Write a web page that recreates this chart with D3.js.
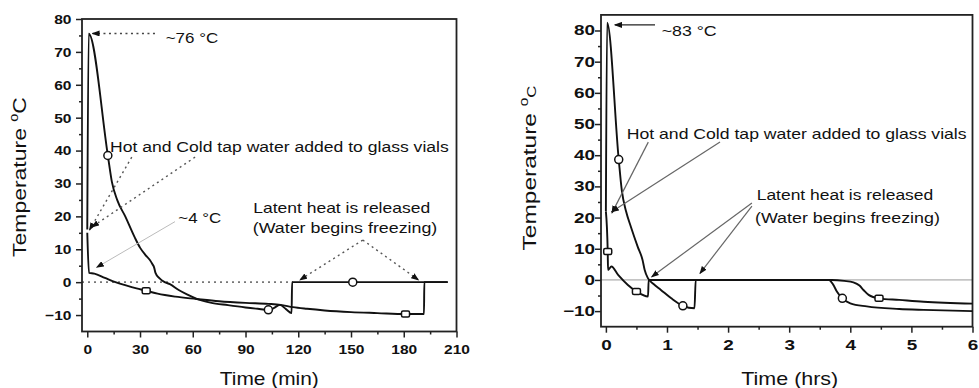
<!DOCTYPE html>
<html>
<head>
<meta charset="utf-8">
<script src="https://cdn.jsdelivr.net/npm/d3@7"></script>
<style>
body { margin: 0; background: #fff; }
svg { display: block; font-family: "Liberation Sans", Arial, sans-serif; }
</style>
</head>
<body>
<svg width="979" height="388"></svg>
<script>
// ---- data ----
// left panel: time in minutes
var leftHotTime  = [0, 0.8, 11.7, 14, 17, 21.6, 27, 30, 33, 35.5, 37, 38, 38.8, 41, 44, 47, 52, 57, 62, 70, 80, 90, 97, 103, 106, 109.5, 113, 116.2, 116.5, 205];
var leftHotTemp  = [16, 75.5, 38.5, 30.5, 25, 20, 13.6, 10.5, 8.3, 6.8, 5.5, 4.5, 2.8, 1.2, 0, -0.6, -2.4, -3.8, -5, -6.2, -7, -7.7, -8.1, -8.4, -7.9, -6.9, -8.2, -9.4, 0, 0];
var leftColdTime = [0, 1, 4, 10, 16, 22, 28, 33.5, 40, 50, 62, 75, 90, 103, 110, 117, 125, 135, 150, 165, 181, 191.5, 191.7, 205];
var leftColdTemp = [15, 2.8, 2.6, 1.3, 0, -1, -1.9, -2.6, -3.5, -4.4, -5.1, -5.8, -6.3, -6.6, -6.9, -7.6, -8.1, -8.6, -9.1, -9.4, -9.7, -9.7, 0, 0];
var leftHotMarkT  = [11.7, 103, 151],  leftHotMarkV  = [38.5, -8.4, 0];
var leftColdMarkT = [33.5, 181],       leftColdMarkV = [-2.6, -9.7];

// right panel: time in hours
var rightHotTime  = [0, 0.02, 0.21, 0.26, 0.33, 0.41, 0.52, 0.6, 0.635, 0.69, 0.78, 0.9, 1.07, 1.26, 1.45, 1.47, 3.65, 3.72, 3.78, 3.87, 4.0, 4.27, 4.8, 5.2, 6];
var rightHotTemp  = [22, 82.5, 38.6, 28.8, 22, 17, 10.7, 6.4, 3.2, 0.5, -1.3, -3.2, -5.9, -8.3, -9.1, 0, 0, -1.5, -3.7, -5.9, -7.5, -8.5, -9.3, -9.6, -10];
var rightColdTime = [0, 0.03, 0.035, 0.09, 0.2, 0.36, 0.5, 0.69, 0.7, 3.7, 3.9, 4.05, 4.15, 4.22, 4.3, 4.47, 4.8, 5.2, 6];
var rightColdTemp = [22, 9.1, 3.2, 4.3, 1.6, -1.6, -3.7, -5.3, 0, 0, -0.3, -0.8, -1.8, -3.3, -4.8, -5.9, -6.4, -7, -7.6];
var rightHotMarkT  = [0.21, 1.26, 3.87], rightHotMarkV  = [38.6, -8.3, -5.9];
var rightColdMarkT = [0.03, 0.5, 4.47],  rightColdMarkV = [9.1, -3.7, -5.9];

// ticks
var minTicks  = [0, 30, 60, 90, 120, 150, 180, 210];
var minMinor  = [15, 45, 75, 105, 135, 165, 195];
var hrTicks   = [0, 1, 2, 3, 4, 5, 6];
var hrMinor   = [0.5, 1.5, 2.5, 3.5, 4.5, 5.5];
var tempTicks = [-10, 0, 10, 20, 30, 40, 50, 60, 70, 80];
var tempMinor = [-5, 5, 15, 25, 35, 45, 55, 65, 75];

var svg = d3.select("svg");

// arrow head
svg.append("defs").append("marker")
    .attr("id", "head")
    .attr("viewBox", "0 0 8 6")
    .attr("refX", 7).attr("refY", 3)
    .attr("markerWidth", 8).attr("markerHeight", 6)
    .attr("markerUnits", "userSpaceOnUse")
    .attr("orient", "auto")
  .append("path").attr("d", "M0,0L8,3L0,6Z").attr("fill", "#111");

// text squeezed/stretched to a width
function addText(g, str, px, py, size, w, anchor, weight) {
    var t = g.append("text").attr("font-size", size).attr("fill", "#111").text(str);
    if (anchor) t.attr("text-anchor", anchor);
    if (weight) t.attr("font-weight", weight);
    var k = w / t.node().getComputedTextLength();
    t.attr("transform", "translate(" + px + "," + py + ") scale(" + k + ",1)");
    return t;
}

function yTitle(px, cy, len, smallC) {
    var t = svg.append("text").attr("font-size", 19).attr("text-anchor", "middle").attr("fill", "#111");
    t.append("tspan").text("Temperature ");
    t.append("tspan").attr("font-size", 12).attr("dy", -8).text("o");
    t.append("tspan").attr("font-size", smallC ? 13 : 19).attr("dy", 8).text("C");
    var k = len / t.node().getComputedTextLength();
    t.attr("transform", "translate(" + px + "," + cy + ") rotate(-90) scale(" + k + ",1)");
}

function styleAxis(ax, p, vertical) {
    ax.select(".domain").remove();
    ax.selectAll(".tick line").attr("stroke", "#222").attr("stroke-width", 1.5);
    ax.selectAll(".tick text").each(function() {
        var t = d3.select(this)
            .attr("font-size", p.tickSize).attr("font-weight", "bold")
            .attr("font-family", "Liberation Sans, Arial, sans-serif").attr("fill", "#111");
        if (vertical) t.attr("x", 0).attr("transform", "translate(" + (-p.yLabelOff) + ",0) scale(" + p.tickStretch + ",1)");
        else t.attr("y", 0).attr("dy", null).attr("transform", "translate(0," + p.xLabelOff + ") scale(" + p.tickStretch + ",1)");
    });
}

function panel(p) {
    var x = d3.scaleLinear().domain(p.xDomain).range(p.xRange),
        y = d3.scaleLinear().domain(p.yDomain).range(p.yRange);
    var g = svg.append("g");
    var left = p.xRange[0], bottom = p.yRange[0];

    // zero reference line
    g.append("line")
        .attr("x1", left).attr("x2", x(p.zeroEnd))
        .attr("y1", y(0)).attr("y2", y(0))
        .attr("stroke", p.zeroColor).attr("stroke-width", p.zeroWidth)
        .attr("stroke-dasharray", p.zeroDash);

    // axes
    var xa = g.append("g").attr("transform", "translate(0," + bottom + ")")
        .call(d3.axisBottom(x).tickValues(p.xTicks).tickFormat(d3.format("d")).tickSize(6).tickSizeOuter(0));
    styleAxis(xa, p, false);
    var xm = g.append("g").attr("transform", "translate(0," + bottom + ")")
        .call(d3.axisBottom(x).tickValues(p.xMinor).tickSize(3).tickFormat(""));
    styleAxis(xm, p, false);
    var ya = g.append("g").attr("transform", "translate(" + left + ",0)")
        .call(d3.axisLeft(y).tickValues(tempTicks).tickFormat(d3.format("d")).tickSize(6).tickSizeOuter(0));
    styleAxis(ya, p, true);
    var ym = g.append("g").attr("transform", "translate(" + left + ",0)")
        .call(d3.axisLeft(y).tickValues(tempMinor).tickSize(3).tickFormat(""));
    styleAxis(ym, p, true);

    // frame
    g.append("rect")
        .attr("x", left).attr("y", p.yRange[1])
        .attr("width", p.xRange[1] - left).attr("height", bottom - p.yRange[1])
        .attr("fill", "none").attr("stroke", "#222").attr("stroke-width", 1.8);

    // curves
    var line = d3.line().x(function(d) { return x(d[0]); }).y(function(d) { return y(d[1]); })
        .curve(d3.curveMonotoneX);
    p.series.forEach(function(s) {
        g.append("path").datum(d3.zip(s.t, s.v))
            .attr("d", line).attr("fill", "none")
            .attr("stroke", "#111").attr("stroke-width", 1.9).attr("stroke-linejoin", "round");
    });

    // markers
    p.series.forEach(function(s) {
        var pts = d3.zip(s.mt, s.mv);
        if (s.marker === "circle") {
            g.selectAll(null).data(pts).enter().append("circle")
                .attr("cx", function(d) { return x(d[0]); }).attr("cy", function(d) { return y(d[1]); })
                .attr("r", 4).attr("fill", "#fff").attr("stroke", "#111").attr("stroke-width", 1.5);
        } else {
            g.selectAll(null).data(pts).enter().append("rect")
                .attr("x", function(d) { return x(d[0]) - 4; }).attr("y", function(d) { return y(d[1]) - 3; })
                .attr("width", 8).attr("height", 6).attr("rx", 1.5)
                .attr("fill", "#fff").attr("stroke", "#111").attr("stroke-width", 1.5);
        }
    });

    // annotation arrows
    p.arrows.forEach(function(a) {
        g.append("line")
            .attr("x1", x(a[0])).attr("y1", y(a[1]))
            .attr("x2", x(a[2])).attr("y2", y(a[3]))
            .attr("stroke", a[4]).attr("stroke-width", a[5])
            .attr("stroke-dasharray", a[6])
            .attr("marker-end", "url(#head)");
    });
    p.notes.forEach(function(n) {
        addText(g, n[0], x(n[1]), y(n[2]), 15, n[3]);
    });

    addText(g, p.xTitle, (p.xRange[0] + p.xRange[1]) / 2 + p.xTitleShift, 384.5, 18, p.xTitleW, "middle");
}

panel({
    xDomain: [-3, 210], xRange: [82, 456.5],
    yDomain: [-15, 80], yRange: [331.5, 19],
    xTicks: minTicks, xMinor: minMinor,
    tickSize: 13.5, tickStretch: 1.15, yLabelOff: 10.5, xLabelOff: 22,
    zeroEnd: 117, zeroColor: "#777", zeroWidth: 1.6, zeroDash: "2,4",
    series: [
        {t: leftHotTime, v: leftHotTemp, mt: leftHotMarkT, mv: leftHotMarkV, marker: "circle"},
        {t: leftColdTime, v: leftColdTemp, mt: leftColdMarkT, mv: leftColdMarkV, marker: "square"}
    ],
    arrows: [
        [38.5, 75.6, 3, 75.6, "#444", 1.4, "2,3.5"],
        [25.3, 38.0, 1.3, 15.9, "#555", 1.4, "2,3.5"],
        [61.3, 38.0, 2.7, 16.8, "#555", 1.4, "2,3.5"],
        [49.9, 18.4, 5.4, 4.5, "#bbb", 1, null],
        [156.7, 12.8, 121, 0.7, "#555", 1.4, "2,3.5"],
        [156.7, 12.8, 188.3, 0.7, "#555", 1.4, "2,3.5"]
    ],
    notes: [
        ["~76 °C", 44.6, 72.8, 52.6],
        ["Hot and Cold tap water added to glass vials", 12.9, 39.5, 339],
        ["~4 °C", 51.8, 18.1, 43],
        ["Latent heat is released", 94.4, 20.9, 177],
        ["(Water begins freezing)", 94.1, 14.9, 184.6]
    ],
    xTitle: "Time (min)", xTitleW: 99, xTitleShift: 0
});

panel({
    xDomain: [-0.08, 6], xRange: [601, 972.5],
    yDomain: [-15, 85], yRange: [326.7, 14.9],
    xTicks: hrTicks, xMinor: hrMinor,
    tickSize: 14, tickStretch: 1.35, yLabelOff: 6, xLabelOff: 23.3,
    zeroEnd: 6, zeroColor: "#999", zeroWidth: 1, zeroDash: null,
    series: [
        {t: rightHotTime, v: rightHotTemp, mt: rightHotMarkT, mv: rightHotMarkV, marker: "circle"},
        {t: rightColdTime, v: rightColdTemp, mt: rightColdMarkT, mv: rightColdMarkV, marker: "square"}
    ],
    arrows: [
        [0.804, 81.8, 0.149, 81.8, "#222", 1.3, null],
        [0.694, 44.2, 0.1, 21.5, "#666", 1.2, null],
        [1.868, 44.2, 0.095, 21.9, "#666", 1.2, null],
        [2.39, 24.7, 0.75, 1.0, "#666", 1.2, null],
        [2.39, 23.7, 1.54, 2.1, "#666", 1.2, null]
    ],
    notes: [
        ["~83 °C", 0.913, 78.2, 55],
        ["Hot and Cold tap water added to glass vials", 0.341, 45.1, 340],
        ["Latent heat is released", 2.468, 25.6, 176.7],
        ["(Water begins freezing)", 2.44, 18.2, 185]
    ],
    xTitle: "Time (hrs)", xTitleW: 97, xTitleShift: 3
});

yTitle(26, 177, 160, false);
yTitle(536, 168, 165, true);
</script>
</body>
</html>
